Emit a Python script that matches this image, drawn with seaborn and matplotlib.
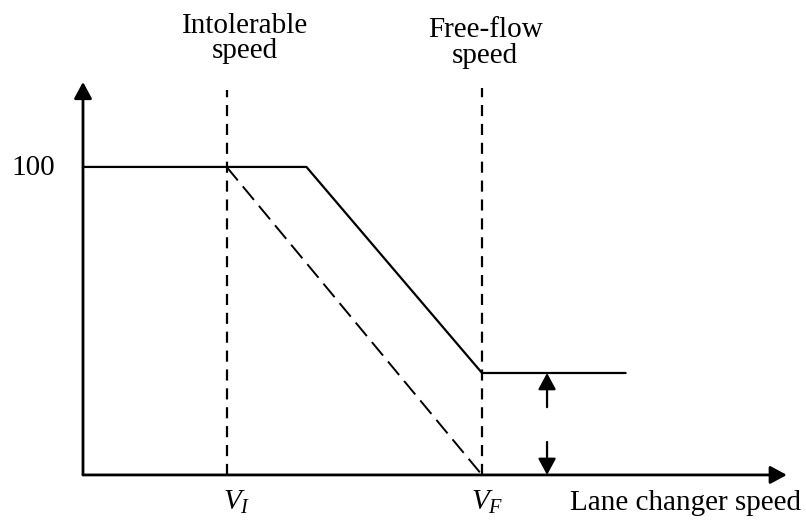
import matplotlib
matplotlib.use("Agg")
import matplotlib.pyplot as plt
import seaborn as sns
import pandas as pd

# ---- data (conceptual diagram units) ----
v_intolerable = 36.0
v_break = 56.0
v_free = 100.0
v_end = 136.0
max_pct = 100.0
floor_pct = 33.1

solid_x = [0.0, v_break, v_free, v_end]
solid_y = [max_pct, max_pct, floor_pct, floor_pct]
dashed_x = [v_intolerable, v_free]
dashed_y = [max_pct, 0.0]

vline_x = [v_intolerable, v_free]
vline_top = [125.0, 125.6]
arrow_x = 116.3
axis_x_end = 176.4
axis_y_end = 127.6

y_tick_label = "100"
top_labels = [("Intolerable", "speed"), ("Free-flow", "speed")]
top_label_x = [40.6, 100.8]
x_labels = [r"$V_I$", r"$V_F$"]
x_label_pos = [38.6, 101.3]
axis_title = "Lane changer speed"

sns.set_theme(style="white")
plt.rcParams["font.family"] = ["Liberation Serif", "DejaVu Serif"]
plt.rcParams["text.color"] = "black"
plt.rcParams["mathtext.fontset"] = "custom"
plt.rcParams["mathtext.rm"] = "Liberation Serif"
plt.rcParams["mathtext.it"] = "Liberation Serif:italic"

fig = plt.figure(figsize=(8.06, 5.31), dpi=100)
ax = fig.add_axes([0, 0, 1, 1])
ax.set_xlim(-20.8, 181.2)
ax.set_ylim(-18.2, 154.2)
ax.axis("off")

df_solid = pd.DataFrame({"x": solid_x, "y": solid_y})
df_dash = pd.DataFrame({"x": dashed_x, "y": dashed_y})
sns.lineplot(data=df_solid, x="x", y="y", sort=False, color="black", lw=1.6, ax=ax)
sns.lineplot(data=df_dash, x="x", y="y", sort=False, color="black", lw=1.4,
             dashes=False, ax=ax, linestyle=(0, (9, 4)))

for xv, top in zip(vline_x, vline_top):
    ax.plot([xv, xv], [0, top], color="black", lw=1.6, linestyle=(0, (5, 3.5)))

head = "-|>,head_length=0.5,head_width=0.27"
# axes arrows
ax.annotate("", xy=(0, axis_y_end), xytext=(0, 0),
            arrowprops=dict(arrowstyle=head, mutation_scale=20, lw=2,
                            color="black", shrinkA=0, shrinkB=0))
ax.annotate("", xy=(axis_x_end, 0), xytext=(0, 0),
            arrowprops=dict(arrowstyle=head, mutation_scale=20, lw=2,
                            color="black", shrinkA=0, shrinkB=0))
# difference arrows
ax.annotate("", xy=(arrow_x, floor_pct), xytext=(arrow_x, 22.0),
            arrowprops=dict(arrowstyle=head, mutation_scale=20, lw=1.6,
                            color="black", shrinkA=0, shrinkB=0))
ax.annotate("", xy=(arrow_x, 0), xytext=(arrow_x, 10.7),
            arrowprops=dict(arrowstyle=head, mutation_scale=20, lw=1.6,
                            color="black", shrinkA=0, shrinkB=0))

fs = 21
ax.text(-7.0, 97.4, y_tick_label, ha="right", va="baseline", fontsize=fs)
baselines = [(143.5, 135.4), (142.2, 133.8)]
for (l1, l2), xv, (b1, b2) in zip(top_labels, top_label_x, baselines):
    ax.text(xv, b1, l1, ha="center", va="baseline", fontsize=fs)
    ax.text(xv, b2, l2, ha="center", va="baseline", fontsize=fs)

for lab, xv in zip(x_labels, x_label_pos):
    ax.text(xv, -11.4, lab, ha="center", va="baseline", fontsize=fs)
ax.text(122.1, -11.4, axis_title, ha="left", va="baseline", fontsize=fs)

fig.savefig("out.png", dpi=100)
